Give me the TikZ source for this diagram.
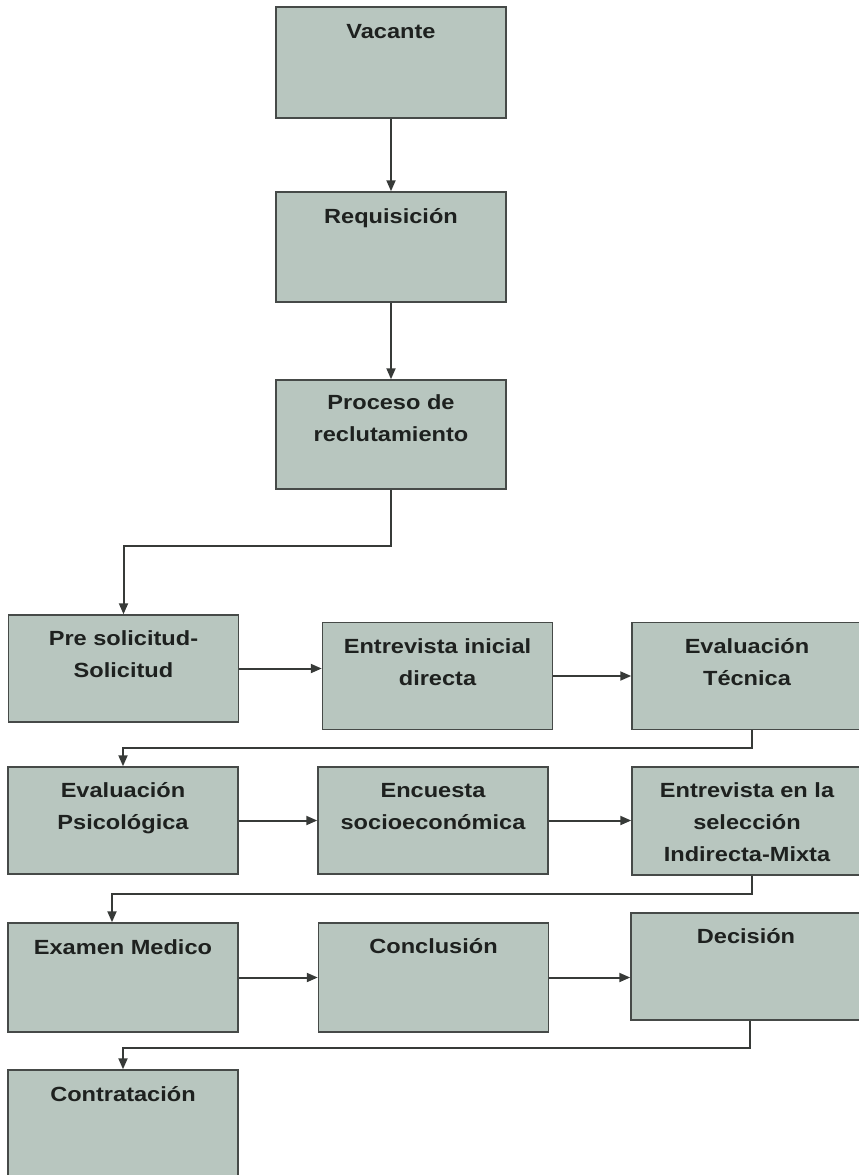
\documentclass[tikz,border=0pt]{standalone}
\usepackage{fontspec}
\setmainfont{Liberation Sans}[FakeStretch=1.15]
\usetikzlibrary{arrows.meta,calc}
\definecolor{boxfill}{RGB}{184,198,191}
\definecolor{boxline}{RGB}{70,74,72}
\definecolor{conn}{RGB}{55,58,56}
\definecolor{txt}{RGB}{30,33,31}
\tikzset{
  stage/.style={draw=boxline, line width=1.5pt, fill=boxfill, minimum width=230pt, minimum height=107pt, inner sep=0pt},
  lbl/.style={font=\fontsize{20.5}{32}\selectfont\bfseries, text=txt, align=center, anchor=base, inner sep=0pt},
  link/.style={draw=conn, line width=2pt, -{Triangle[length=11pt,width=9pt]}},
}
\begin{document}
\begin{tikzpicture}[x=1pt,y=-1pt]
\useasboundingbox (0,0) rectangle (859,1175);
% top column
\node[stage, minimum height=111pt] (vac) at (391,62.5) {};
\node[stage, minimum height=110pt] (req) at (391,247) {};
\node[stage, minimum height=109pt] (pro) at (391,434.5) {};
% row 1
\node[stage] (pre) at (123.5,668.5) {};
\node[stage] (ent) at (437.5,676) {};
\node[stage] (evt) at (747,676) {};
% row 2
\node[stage] (psi) at (123,820.5) {};
\node[stage] (enc) at (433,820.5) {};
\node[stage, minimum height=108pt] (sel) at (747,821) {};
% row 3
\node[stage, minimum height=109pt] (exa) at (123,977.5) {};
\node[stage, minimum height=109pt] (con) at (433.5,977.5) {};
\node[stage] (dec) at (746,966.5) {};
% last
\node[stage] (cnt) at (123,1123.5) {};

% labels (anchor = baseline of the last line)
\node[lbl] (tvac) at ($(vac.north)+(0,32)$) {Vacante};
\node[lbl] (treq) at ($(req.north)+(0,32)$) {Requisición};
\node[lbl] (tpro) at ($(pro.north)+(0,62)$) {Proceso de\\reclutamiento};
\node[lbl] (tpre) at ($(pre.north)+(0,63)$) {Pre solicitud-\\Solicitud};
\node[lbl] (tent) at ($(ent.north)+(0,64)$) {Entrevista inicial\\directa};
\node[lbl] (tevt) at ($(evt.north)+(0,64)$) {Evaluación\\Técnica};
\node[lbl] (tpsi) at ($(psi.north)+(0,63)$) {Evaluación\\Psicológica};
\node[lbl] (tenc) at ($(enc.north)+(0,63)$) {Encuesta\\socioeconómica};
\node[lbl] (tsel) at ($(sel.north)+(0,95)$) {Entrevista en la\\selección\\Indirecta-Mixta};
\node[lbl] (texa) at ($(exa.north)+(0,32)$) {Examen Medico};
\node[lbl] (tcon) at ($(con.north)+(0,31)$) {Conclusión};
\node[lbl] (tdec) at ($(dec.north)+(0,31)$) {Decisión};
\node[lbl] (tcnt) at ($(cnt.north)+(0,32)$) {Contratación};

% connectors
\draw[link] (vac) -- (req);
\draw[link] (req) -- (pro);
\coordinate (b1) at ($(pro.south)+(0,56)$);
\draw[link] (pro.south) -- (b1) -| (pre.north);
\draw[link] (pre.east) -- (pre.east -| ent.west);
\draw[link] (ent.east) -- (ent.east -| evt.west);
\coordinate (b2) at ($(evt.south)+(5,18)$);
\draw[link] ($(evt.south)+(5,0)$) -- (b2) -| (psi.north);
\draw[link] (psi.east) -- (psi.east -| enc.west);
\draw[link] (enc.east) -- (enc.east -| sel.west);
\coordinate (b3) at ($(sel.south)+(5,18)$);
\coordinate (e3) at ($(exa.north)+(-11,0)$);
\draw[link] ($(sel.south)+(5,0)$) -- (b3) -| (e3);
\draw[link] (exa.east) -- (exa.east -| con.west);
\draw[link] (con.east) -- (con.east -| dec.west);
\coordinate (b4) at ($(dec.south)+(4,27)$);
\draw[link] ($(dec.south)+(4,0)$) -- (b4) -| (cnt.north);
\end{tikzpicture}
\end{document}
